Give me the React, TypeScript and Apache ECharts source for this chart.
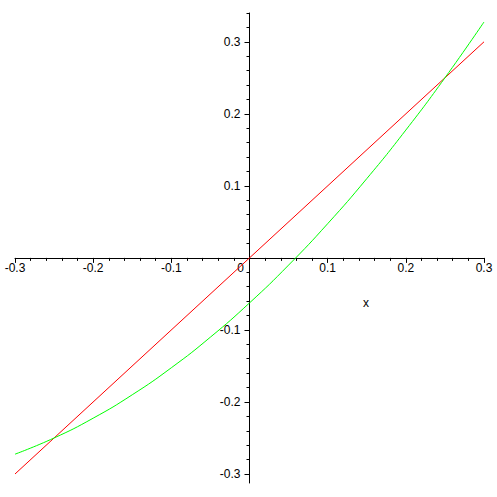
import React, { useEffect, useRef } from "react";
import * as echarts from "echarts";

const redX = [-0.3, 0.3];
const redY = [-0.3, 0.3];

const greenX = [-0.3, -0.25, -0.2, -0.15, -0.1, -0.05, 0, 0.05, 0.1, 0.15, 0.2, 0.25, 0.3];
const greenY = [-0.2725, -0.25, -0.2225, -0.19, -0.1525, -0.11, -0.0625, -0.01, 0.0475, 0.11, 0.1775, 0.25, 0.3275];

const yMajor = [-0.3, -0.2, -0.1, 0.1, 0.2, 0.3];
const yMinor = [
  -0.3, -0.28, -0.26, -0.24, -0.22, -0.2, -0.18, -0.16, -0.14, -0.12, -0.1, -0.08, -0.06, -0.04, -0.02,
  0, 0.02, 0.04, 0.06, 0.08, 0.1, 0.12, 0.14, 0.16, 0.18, 0.2, 0.22, 0.24, 0.26, 0.28, 0.3, 0.32, 0.34,
];

const X_MIN = -0.3;
const X_MAX = 0.3;
const Y_MIN = -0.3125;
const Y_MAX = 0.34;

const FONT = "Liberation Sans";
const W = 497;
const H = 497;
const G = { left: 15, right: 13, top: 13, bottom: 14 };

export default function App() {
  const ref = useRef<HTMLDivElement>(null);
  useEffect(() => {
    if (!ref.current) return;
    const chart = echarts.init(ref.current, undefined, { renderer: "svg" });
    const gw = W - G.left - G.right;
    const gh = H - G.top - G.bottom;
    // distance from grid edges to the zero lines
    const xZeroFromLeft = ((0 - X_MIN) / (X_MAX - X_MIN)) * gw;
    const xZeroFromRight = gw - xZeroFromLeft;
    const yZeroFromBottom = ((0 - Y_MIN) / (Y_MAX - Y_MIN)) * gh;
    chart.setOption({
      animation: false,
      backgroundColor: "#ffffff",
      grid: { ...G, containLabel: false, outerBoundsMode: "none" },
      xAxis: {
        type: "value",
        min: X_MIN,
        max: X_MAX,
        interval: 0.1,
        position: "bottom",
        offset: -yZeroFromBottom,
        axisLine: { onZero: false, lineStyle: { color: "#000", width: 1 } },
        axisTick: { show: true, length: 5, lineStyle: { color: "#000" } },
        minorTick: { show: true, splitNumber: 5, length: 3, lineStyle: { color: "#000" } },
        splitLine: { show: false },
        minorSplitLine: { show: false },
        axisLabel: {
          margin: 4,
          color: "#000",
          fontFamily: FONT,
          fontSize: 12,
          showMinLabel: true,
          showMaxLabel: true,
          hideOverlap: false,
          formatter: (v: number) => (Math.abs(v) < 1e-9 ? "{z|0}" : String(Math.round(v * 10) / 10)),
          rich: { z: { padding: [0, 18, 0, 0], fontFamily: FONT, fontSize: 12, color: "#000" } },
        },
      },
      yAxis: [
        {
          type: "value",
          min: Y_MIN,
          max: Y_MAX,
          position: "left",
          offset: -xZeroFromLeft,
          axisLine: { onZero: false, lineStyle: { color: "#000", width: 1 } },
          axisTick: { show: true, length: 5, customValues: yMajor, lineStyle: { color: "#000" } },
          splitLine: { show: false },
          axisLabel: {
            customValues: yMajor,
            margin: 9,
            color: "#000",
            fontFamily: FONT,
            fontSize: 12,
            hideOverlap: false,
            formatter: (v: number) => String(Math.round(v * 10) / 10),
          },
        },
        {
          type: "value",
          min: Y_MIN,
          max: Y_MAX,
          position: "right",
          offset: -xZeroFromRight,
          axisLine: { show: false, onZero: false },
          axisTick: { show: true, inside: true, length: 3, customValues: yMinor, lineStyle: { color: "#000" } },
          axisLabel: { show: false },
          splitLine: { show: false },
        },
      ],
      graphic: [
        {
          type: "text",
          left: 363,
          top: 297,
          style: { text: "x", fill: "#000", font: `12px "${FONT}"` },
        },
      ],
      series: [
        {
          type: "line",
          data: redX.map((x, i) => [x, redY[i]]),
          showSymbol: false,
          lineStyle: { color: "#ff0000", width: 1 },
          clip: false,
        },
        {
          type: "line",
          data: greenX.map((x, i) => [x, greenY[i]]),
          showSymbol: false,
          smooth: true,
          lineStyle: { color: "#00ff00", width: 1 },
          clip: false,
        },
      ],
    });
    return () => chart.dispose();
  }, []);
  return (
    <div
      ref={ref}
      style={{ position: "fixed", left: 0, top: 0, width: W, height: H, background: "#fff" }}
    />
  );
}
